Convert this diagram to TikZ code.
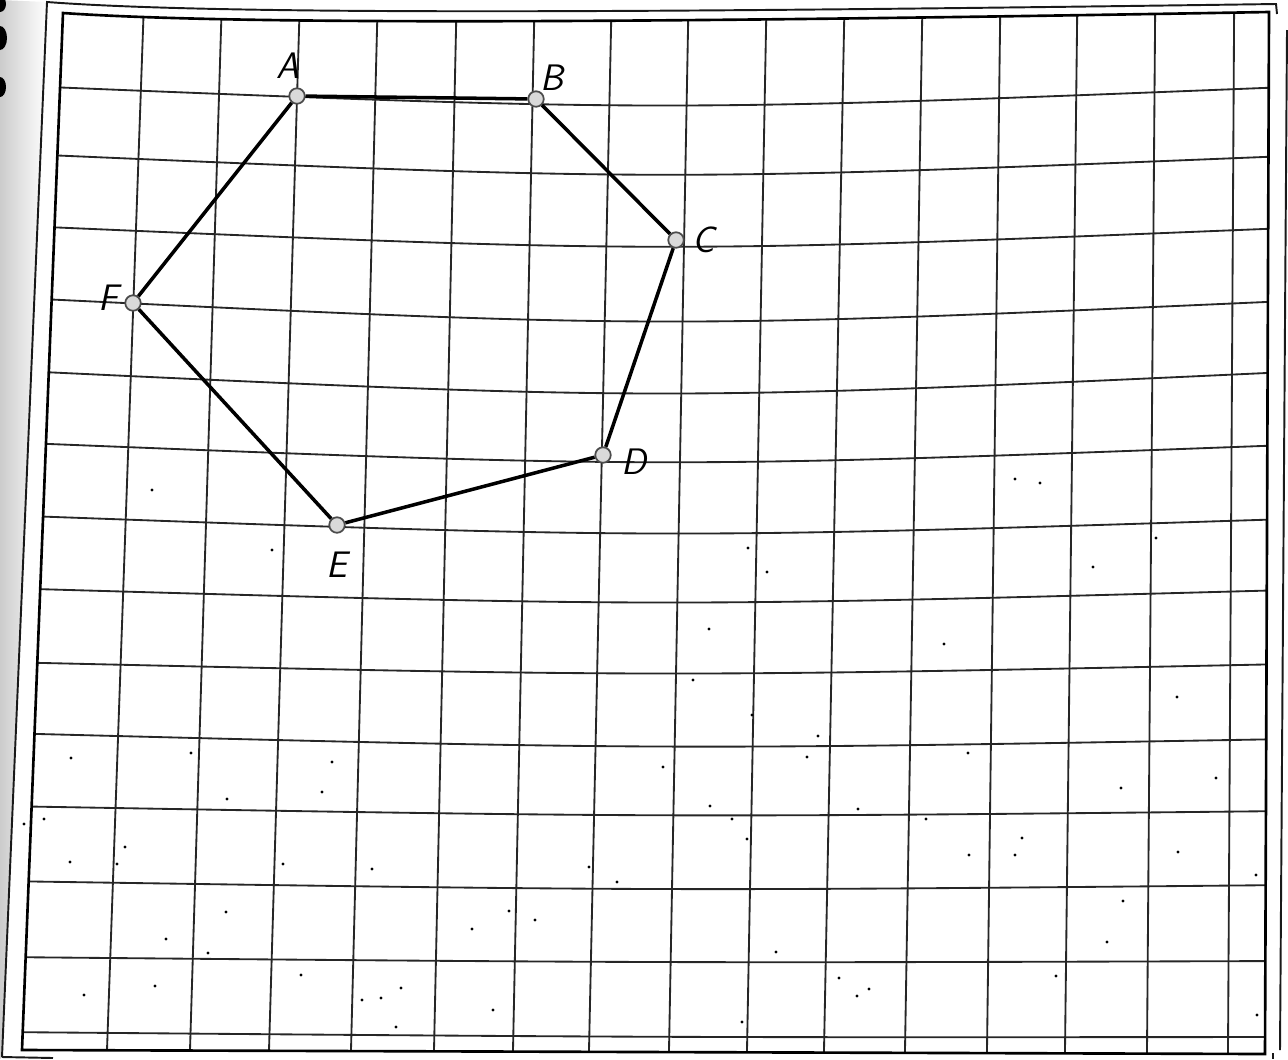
\documentclass[tikz,border=0pt]{standalone}
\usepackage{tikz}
\usetikzlibrary{calc,positioning}

\begin{document}
\begin{tikzpicture}[x=0.02cm,y=-0.02cm,
  gridline/.style={line width=1.05pt,black!85},
  frameline/.style={line width=1.5pt,black},
  outerline/.style={line width=1.1pt,black!90},
  side/.style={line width=2pt,black},
  vertex/.style={circle,inner sep=0pt,minimum size=0.31cm,fill=gray!30,draw=gray!60!black,line width=1pt},
  ptlabel/.style={inner sep=0pt,font=\fontsize{21}{25}\selectfont\sffamily\slshape}]
  \useasboundingbox (0,0) rectangle (1288,1059);
  % bord de la photo
  \shade[left color=gray!40,right color=white] (0,0) -- (47,2) -- (2,1057) -- (0,1059) -- cycle;
  \fill (0,4) ellipse (6 and 8);
  \fill (0,38) ellipse (7 and 12);
  \fill (0,87) ellipse (6 and 10);
  % feuille quadrillee
  \begin{scope}
    \clip (63,13) .. controls (250,26) and (700,22) .. (1269,12) -- (1265,1054) -- (22,1050) -- cycle;
    \foreach \xt/\xb in {143/107,221/190,299/269,377/351,456/434,534/513,611/589,688/669,
                         766/747,844/824,922/905,1000/987,1077/1065,1155/1147,1234/1228}
      \draw[gridline] ($(\xt,30)!-0.05!(\xb,1050)$) -- ($(\xt,30)!1.05!(\xb,1050)$);
    \foreach \l/\m/\r in {85/99/87,153/168/156,225/240/228,297/314/301,370/386/372,442/456/445,
                          515/528/519,588/598/590,662/670/664,733/743/739,806/813/811,881/887/885,
                          957/961/961,1032/1036/1037}
      \draw[gridline] (0,\l) .. controls (660,{2*\m-(\l+\r)/2}) .. (1288,\r);
  \end{scope}
  \draw[frameline] (63,13) .. controls (250,26) and (700,22) .. (1269,12) -- (1265,1054) -- (22,1050) -- cycle;
  \draw[outerline] (2,1057) -- (47,2) .. controls (230,16) and (700,12) .. (1276,4) -- (1277,14);
  \draw[outerline] (2,1057) -- (53,1058);
  \draw[outerline] (1287,30) -- (1280,1050);
  \draw[outerline] (1273,1053) -- (1273,1059);
  % petites taches
  \foreach \px/\py in {71/758,191/753,227/799,332/762,322/792,44/819,24/824,125/847,70/862,
                       117/864,283/864,372/869,226/912,166/939,208/953,301/975,84/995,155/986,
                       362/1000,381/998,401/988,396/1027,969/855,1015/855,1178/852,1256/875,
                       1123/901,1107/942,1056/976,1257/1015,709/629,693/680,752/715,818/736,
                       807/757,663/767,710/806,858/809,732/819,747/839,589/867,617/882,509/911,
                       535/920,472/929,776/952,839/978,869/989,857/996,493/1010,742/1022,
                       1015/479,1040/483,1156/538,1093/567,944/644,1177/697,968/753,1121/788,
                       1216/778,926/819,1022/838,152/490,272/550,748/548,767/572}
    \fill (\px,\py) circle (1.6);
  % hexagone
  \node[vertex] (A) at (297,96) {};
  \node[vertex] (B) at (536,99) {};
  \node[vertex] (C) at (676,240) {};
  \node[vertex] (D) at (603,455) {};
  \node[vertex] (E) at (337,525) {};
  \node[vertex] (F) at (133,303) {};
  \draw[side] (A) -- (B) -- (C) -- (D) -- (E) -- (F) -- (A);
  \node[ptlabel] (lA) at (288,66) {A};
  \node[ptlabel] (lB) at (552,78) {B};
  \node[ptlabel] (lC) at (704,240) {C};
  \node[ptlabel] (lD) at (634,462) {D};
  \node[ptlabel] (lE) at (337,565) {E};
  \node[ptlabel] (lF) at (108,298) {F};
\end{tikzpicture}
\end{document}
